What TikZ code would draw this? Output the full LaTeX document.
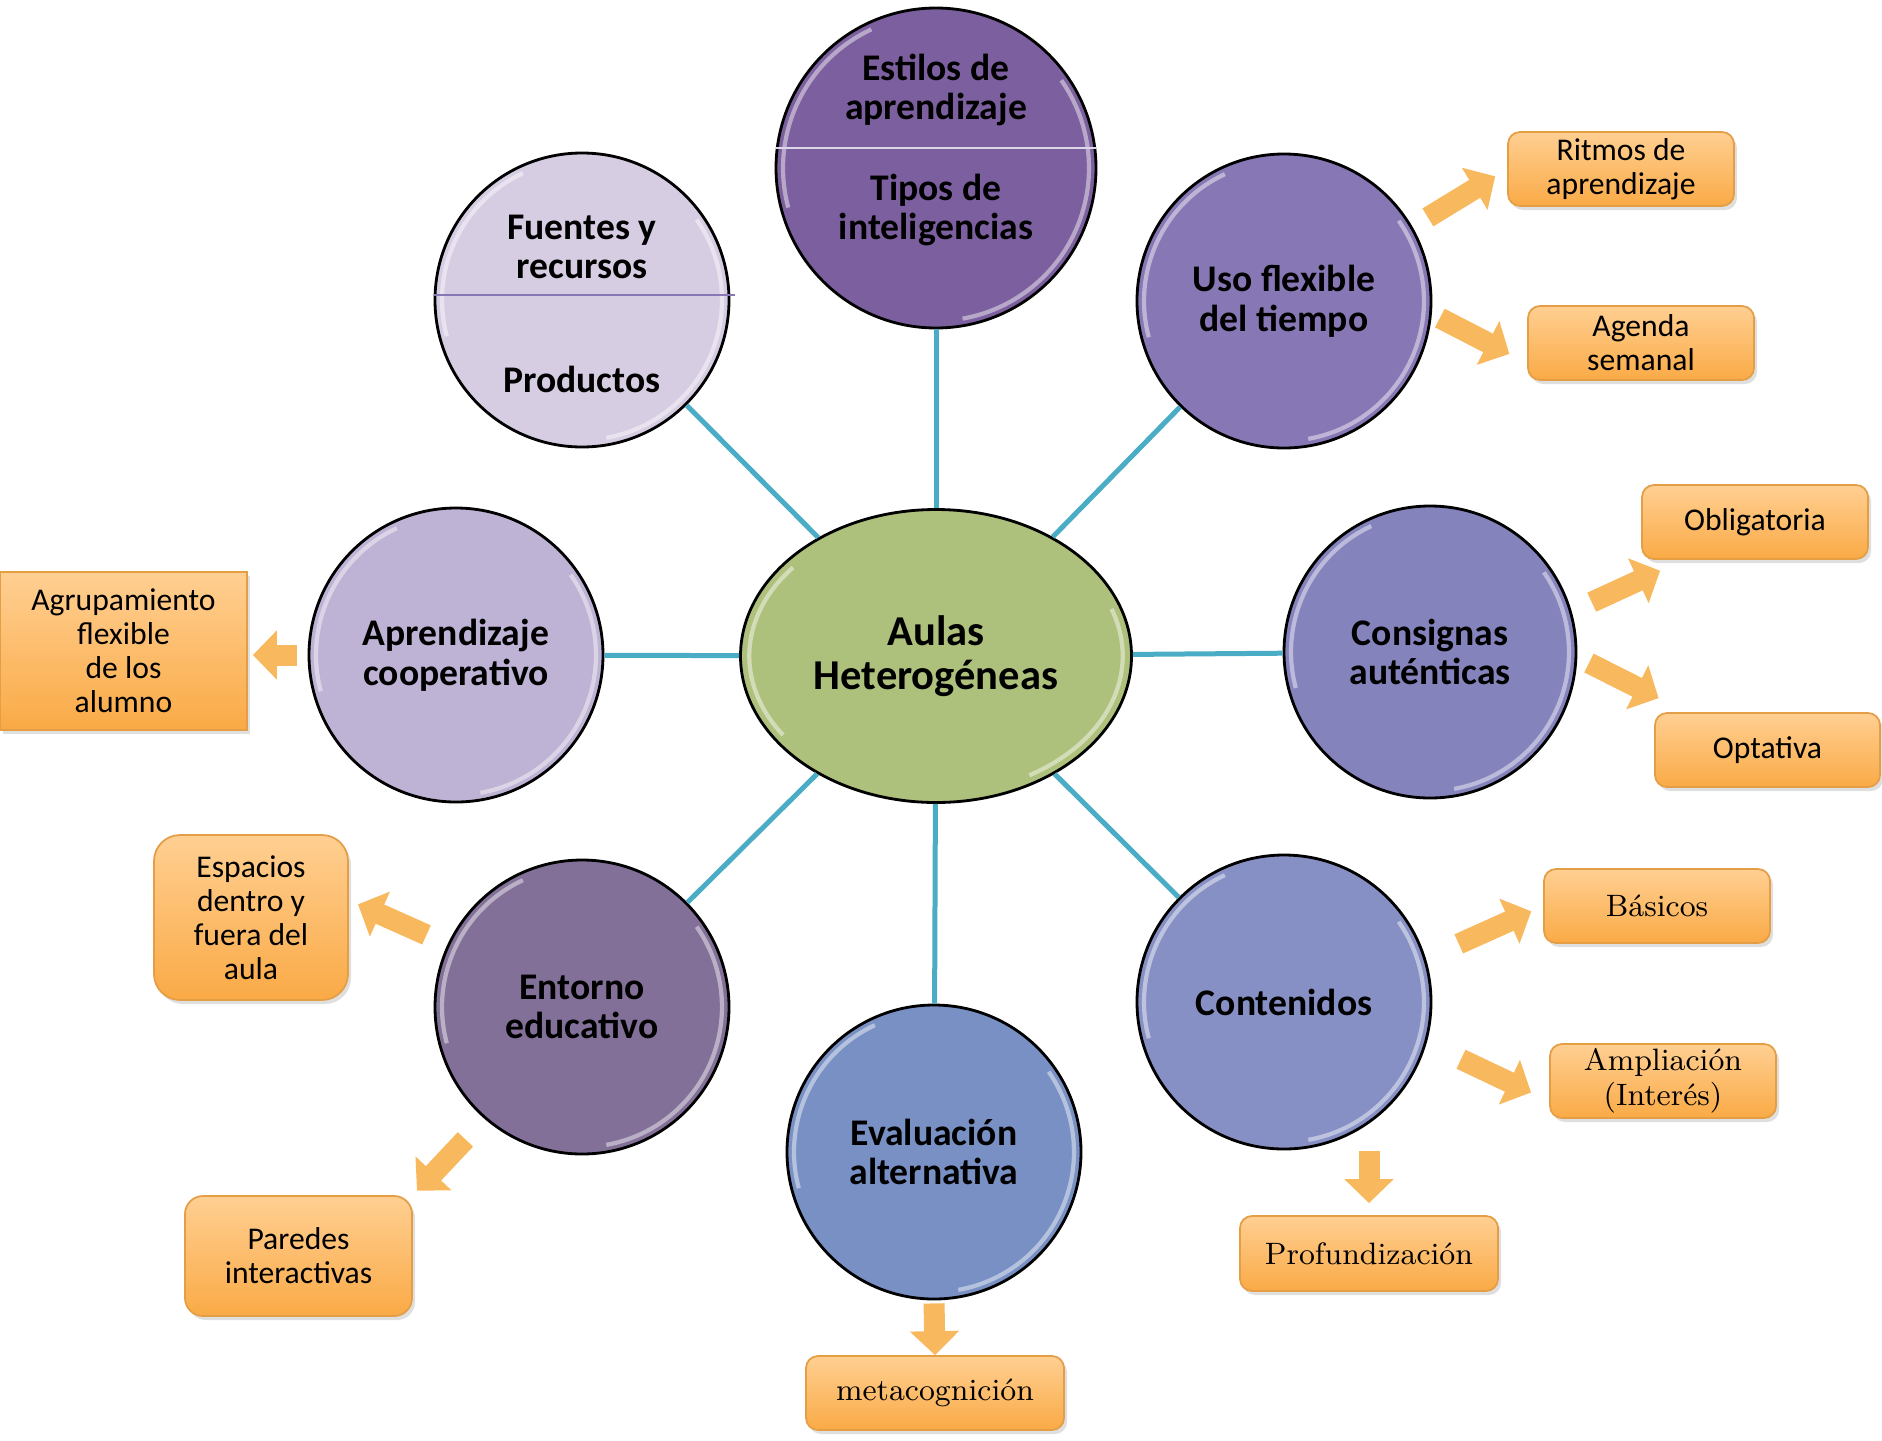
\documentclass[tikz,border=0pt]{standalone}
\usepackage{fontspec}
\usepackage{tikz}
\usetikzlibrary{shapes.geometric, arrows.meta, positioning, shadows, calc}
\newfontfamily\calibri{Carlito}
\definecolor{hub}{RGB}{174,193,124}
\definecolor{spoke}{RGB}{75,172,198}
\definecolor{estilosc}{RGB}{124,95,158}
\definecolor{usoc}{RGB}{136,119,181}
\definecolor{fuentesc}{RGB}{214,205,227}
\definecolor{aprendc}{RGB}{190,178,213}
\definecolor{consigc}{RGB}{133,131,188}
\definecolor{entornoc}{RGB}{130,112,152}
\definecolor{contenc}{RGB}{135,144,196}
\definecolor{evalc}{RGB}{120,144,196}
\definecolor{boxtop}{RGB}{255,207,146}
\definecolor{boxbot}{RGB}{250,170,70}
\definecolor{boxline}{RGB}{228,158,70}
\definecolor{arrowc}{RGB}{248,184,94}

\begin{document}
\begin{tikzpicture}[
    bubble/.style={circle, draw=black, line width=0.8pt, minimum size=2.94cm, inner sep=0pt,
                   align=center, font=\calibri\bfseries\fontsize{10.7}{11.3}\selectfont,
                   path picture={
                     \draw[white, opacity=0.45, line width=1.2pt]
                       let \p1=(path picture bounding box.east), \p2=(path picture bounding box.center),
                           \n1={\x1-\x2-2pt} in
                       (\p2) ++(35:\n1) arc[start angle=35, end angle=-80, radius=\n1]
                       (\p2) ++(115:\n1) arc[start angle=115, end angle=195, radius=\n1];}},
    leaf/.style={rectangle, rounded corners=0.12cm, draw=boxline, line width=0.5pt,
                 top color=boxtop, bottom color=boxbot, minimum width=2.26cm, minimum height=0.74cm,
                 inner sep=0pt, align=center, font=\calibri\fontsize{9}{9.7}\selectfont,
                 drop shadow={opacity=0.25, shadow xshift=0.03cm, shadow yshift=-0.04cm}},
    serifleaf/.style={leaf, font=\fontsize{8.8}{9.9}\selectfont},
    spokeline/.style={draw=spoke, line width=0.05cm},
    divline/.style={line width=0.6pt},
    flecha/.style={draw=arrowc, line width=0.21cm, -{Triangle[length=0.24cm, width=0.48cm]}}]

    \useasboundingbox (0,0) rectangle (18.82,-14.40);

    % Center
    \node[ellipse, draw=black, line width=0.8pt, fill=hub, minimum width=3.91cm, minimum height=2.93cm,
          align=center, font=\calibri\bfseries\fontsize{12.1}{12.7}\selectfont,
          path picture={
            \draw[white, opacity=0.45, line width=1.2pt]
              let \p1=(path picture bounding box.east), \p2=(path picture bounding box.center),
                  \p3=(path picture bounding box.north),
                  \n1={\x1-\x2-2.5pt}, \n2={\y3-\y2-2.5pt} in
              (\p2) ++({\n1*cos(140)},{\n2*sin(140)}) arc[start angle=140, end angle=215, x radius=\n1, y radius=\n2]
              (\p2) ++({\n1*cos(20)},{\n2*sin(20)}) arc[start angle=20, end angle=-60, x radius=\n1, y radius=\n2];}]
          (aulas) at (9.36,-6.56) {Aulas\\Heterogéneas};

    % Circles
    \node[bubble, fill=estilosc, minimum size=3.20cm] (estilos) at (9.36,-1.68) {};
    \node[bubble, fill=usoc] (uso) at (12.84,-3.01) {Uso flexible\\del tiempo};
    \node[bubble, fill=fuentesc] (fuentes) at (5.82,-3.00) {};
    \node[bubble, fill=aprendc] (aprendizaje) at (4.56,-6.55) {Aprendizaje\\cooperativo};
    \node[bubble, fill=consigc, minimum size=2.92cm] (consignas) at (14.30,-6.52) {Consignas\\auténticas};
    \node[bubble, fill=entornoc] (entorno) at (5.82,-10.07) {Entorno\\educativo};
    \node[bubble, fill=contenc] (contenidos) at (12.84,-10.02) {Contenidos};
    \node[bubble, fill=evalc] (evaluacion) at (9.34,-11.52) {Evaluación\\alternativa};

    % Split circles
    \draw[divline, draw=fuentesc!80!white] (estilos.173) -- (estilos.7);
    \node[font=\calibri\bfseries\fontsize{10.7}{11.3}\selectfont, align=center] (estilosA) at (9.36,-0.90) {Estilos de\\aprendizaje};
    \node[font=\calibri\bfseries\fontsize{10.7}{11.3}\selectfont, align=center] (estilosB) at (9.36,-2.10) {Tipos de\\inteligencias};
    \draw[divline, draw=usoc] (fuentes.178) -- ([xshift=0.05cm]fuentes.2);
    \node[font=\calibri\bfseries\fontsize{10.7}{11.3}\selectfont, align=center] (fuentesA) at (5.82,-2.47) {Fuentes y\\recursos};
    \node[font=\calibri\bfseries\fontsize{10.7}{11.3}\selectfont, align=center] (fuentesB) at (5.82,-3.79) {Productos};

    % Spokes
    \foreach \n in {estilos, uso, fuentes, aprendizaje, consignas, entorno, contenidos, evaluacion}
        \draw[spokeline] (\n) -- (aulas);

    % Leaves
    \node[leaf] (ritmos) at (16.21,-1.69) {Ritmos de\\aprendizaje};
    \node[leaf] (agenda) at (16.41,-3.43) {Agenda\\semanal};
    \node[leaf] (obligatoria) at (17.55,-5.22) {Obligatoria};
    \node[leaf, minimum width=2.25cm] (optativa) at (17.675,-7.50) {Optativa};
    \node[serifleaf] (basicos) at (16.57,-9.06) {Básicos};
    \node[serifleaf] (ampliacion) at (16.63,-10.81) {Ampliación\\(Interés)};
    \node[serifleaf, minimum width=2.58cm, minimum height=0.75cm] (profund) at (13.69,-12.535) {Profundización};
    \node[serifleaf, minimum width=2.58cm] (metacog) at (9.35,-13.93) {metacognición};
    \node[leaf, minimum width=2.27cm, minimum height=1.20cm, rounded corners=0.18cm] (paredes) at (2.985,-12.56) {Paredes\\interactivas};
    \node[leaf, minimum width=1.94cm, minimum height=1.65cm, rounded corners=0.26cm] (espacios) at (2.51,-9.175) {Espacios\\dentro y\\fuera del\\aula};
    \node[leaf, minimum width=2.47cm, minimum height=1.58cm, sharp corners] (agrupa) at (1.235,-6.51) {Agrupamiento\\flexible\\de los\\alumno};

    % Arrows
    \draw[flecha, shorten <=0.18cm, shorten >=0.14cm] (uso.30) -- (ritmos.west);
    \draw[flecha, shorten <=0.09cm, shorten >=0.20cm] (uso.355) -- (agenda.190);
    \draw[flecha, shorten <=0.22cm, shorten >=0.26cm] (consignas.16) -- (obligatoria.208);
    \draw[flecha, shorten <=0.13cm, shorten >=0.31cm] (consignas.358) -- (optativa.155);
    \draw[flecha, shorten <=0.36cm, shorten >=0.13cm] (contenidos.17) -- (basicos.west);
    \draw[flecha, shorten <=0.38cm, shorten >=0.20cm] (contenidos.344) -- (ampliacion.190);
    \draw[flecha, shorten <=0.01cm, shorten >=0.12cm] (contenidos.south -| profund.north) -- (profund.north);
    \draw[flecha, shorten <=0.03cm] (evaluacion.south) -- (metacog.north);
    \draw[flecha, shorten <=0.23cm, shorten >=0.10cm] (entorno.155) -- (espacios.10);
    \draw[flecha, shorten <=0.28cm, shorten >=0.06cm] (entorno.229) -- (paredes.north east);
    \draw[flecha, shorten <=0.11cm, shorten >=0.05cm] (aprendizaje.west) -- (aprendizaje.west -| agrupa.east);
\end{tikzpicture}
\end{document}
